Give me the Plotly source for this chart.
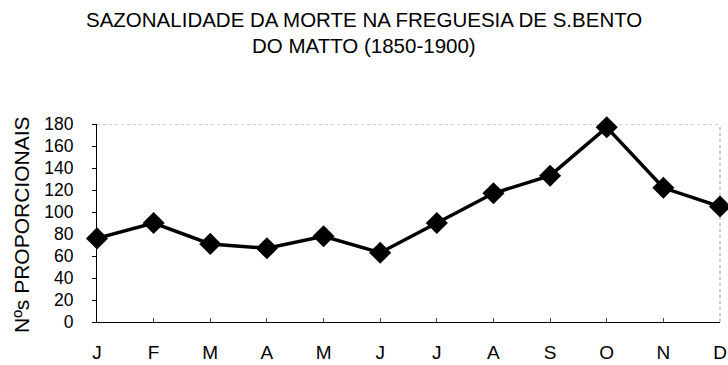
import plotly.graph_objects as go

# Monthly proportional death numbers, S. Bento do Matto, 1850-1900
months = ["J", "F", "M", "A", "M", "J", "J", "A", "S", "O", "N", "D"]
values = [76, 90, 71, 67, 78, 63, 90, 117, 133, 177, 122, 105]
y_ticks = [0, 20, 40, 60, 80, 100, 120, 140, 160, 180]
title_lines = ["SAZONALIDADE DA MORTE NA FREGUESIA DE S.BENTO", "DO MATTO (1850-1900)"]

x_pos = list(range(len(months)))
FONT = "Liberation Sans, Arial, sans-serif"
W, H = 728, 365
L, R, T, B = 97, 8, 124, 43
plot_w, plot_h = W - L - R, H - T - B
x_range = [0, len(months) - 1]
y_range = [0, 180]

fig = go.Figure()
fig.add_trace(go.Scatter(
    x=x_pos, y=values,
    mode="lines+markers",
    line=dict(color="black", width=3.5),
    marker=dict(symbol="diamond", size=17, color="black"),
    cliponaxis=False,
    hoverinfo="skip",
))

annotations = []
# two-line centred title
for line, yc in zip(title_lines, [20, 46]):
    annotations.append(dict(
        text=line, xref="paper", yref="paper",
        x=(364 - L) / plot_w, y=(H - B - yc) / plot_h,
        xanchor="center", yanchor="middle", showarrow=False,
        font=dict(family=FONT, size=20.5, color="black"),
    ))
# rotated y-axis title
annotations.append(dict(
    text="Nºs PROPORCIONAIS",
    xref="paper", yref="paper",
    x=(21 - L) / plot_w, y=(H - B - 225) / plot_h,
    xanchor="center", yanchor="middle",
    textangle=-90, showarrow=False,
    font=dict(family=FONT, size=21, color="black"),
))

fig.update_layout(
    width=W, height=H,
    margin=dict(l=L, r=R, t=T, b=B, autoexpand=False),
    paper_bgcolor="white", plot_bgcolor="white",
    showlegend=False,
    font=dict(family=FONT, color="black"),
    xaxis=dict(
        range=x_range,
        tickvals=x_pos, ticktext=months,
        showgrid=False, zeroline=False,
        showline=True, linecolor="black", linewidth=1,
        ticks="inside", ticklen=4, tickcolor="#444",
        ticklabelstandoff=13,
        tickfont=dict(family=FONT, size=19),
        automargin=False,
        fixedrange=True,
    ),
    # companion axes so the tick marks cross the axis lines
    xaxis2=dict(
        range=x_range, overlaying="x", anchor="y", side="bottom",
        tickvals=x_pos, showticklabels=False,
        showgrid=False, zeroline=False, showline=False,
        ticks="outside", ticklen=3, tickcolor="#444",
        automargin=False, fixedrange=True,
    ),
    yaxis=dict(
        range=y_range,
        tickvals=y_ticks,
        showgrid=False, zeroline=False,
        showline=True, linecolor="black", linewidth=1,
        ticks="outside", ticklen=4, tickcolor="black",
        ticklabelstandoff=15,
        tickfont=dict(family=FONT, size=17.5),
        automargin=False,
        fixedrange=True,
    ),
    yaxis2=dict(
        range=y_range, overlaying="y", anchor="x", side="left",
        tickvals=y_ticks, showticklabels=False,
        showgrid=False, zeroline=False, showline=False,
        ticks="inside", ticklen=3, tickcolor="black",
        automargin=False, fixedrange=True,
    ),
    annotations=annotations,
    shapes=[
        # faint dotted top gridline and right border
        dict(type="line", xref="paper", yref="y", x0=0, x1=1, y0=180, y1=180,
             line=dict(color="#999", width=1, dash="dot"), layer="below"),
        dict(type="line", xref="paper", yref="paper", x0=1, x1=1, y0=0, y1=1,
             line=dict(color="#999", width=1, dash="dot"), layer="below"),
    ],
)

fig.write_html("out.html")
